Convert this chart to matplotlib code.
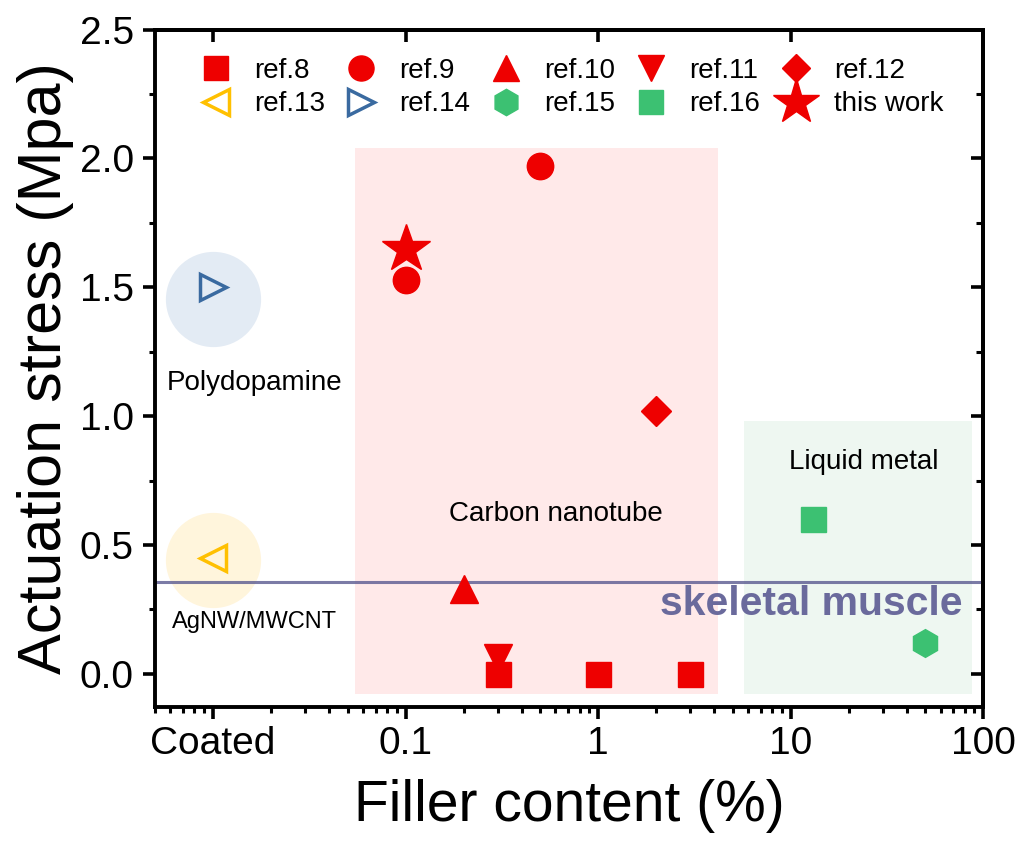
import numpy as np
import matplotlib
matplotlib.use('Agg')
import matplotlib.pyplot as plt
from matplotlib.ticker import LogLocator, MultipleLocator, NullFormatter

plt.rcParams['font.family'] = ['Liberation Sans', 'DejaVu Sans']

# data (x = filler content %, "Coated" placed at 0.01)
ref8_x = [0.3, 1.0, 3.0]
ref8_y = [0.0, 0.0, 0.0]
ref9_x = [0.1, 0.5]
ref9_y = [1.53, 1.97]
ref10_x = [0.2]
ref10_y = [0.33]
ref11_x = [0.3]
ref11_y = [0.06]
ref12_x = [2.0]
ref12_y = [1.02]
ref13_x = [0.01]
ref13_y = [0.45]
ref14_x = [0.01]
ref14_y = [1.50]
ref15_x = [50.0]
ref15_y = [0.12]
ref16_x = [13.0]
ref16_y = [0.60]
this_x = [0.1]
this_y = [1.65]

muscle_y = 0.357
tick_vals = [0.01, 0.1, 1, 10, 100]
tick_labels = ['Coated', '0.1', '1', '10', '100']

red = '#ee0000'
green = '#3cc172'

fig = plt.figure(figsize=(10.21, 8.47), dpi=100)
ax = fig.add_axes([0.152, 0.165, 0.811, 0.8])
ax.set_xscale('log')
ax.set_xlim(0.005, 100)
ax.set_ylim(-0.13, 2.5)

# shaded regions
ax.axvspan(0.0547, 4.2, ymin=(-0.078 + 0.13) / 2.63, ymax=(2.04 + 0.13) / 2.63,
           color='#ffe6e6', alpha=0.85, lw=0, zorder=0)
ax.axvspan(5.73, 87.7, ymin=(-0.078 + 0.13) / 2.63, ymax=(0.98 + 0.13) / 2.63,
           color='#eaf6ee', alpha=0.8, lw=0, zorder=0)
ax.scatter([0.01], [1.455], s=4700, color='#e3ebf4', lw=0, zorder=1)
ax.scatter([0.01], [0.443], s=4700, color='#fff5dc', lw=0, zorder=1)

# skeletal muscle line
ax.axhline(muscle_y, color='#5a5a90', lw=2.2, alpha=0.8, zorder=2)
ax.text(78, 0.27, 'skeletal muscle', ha='right', va='center', fontsize=29.5,
        fontweight='bold', color='#6a6a9c', zorder=3)

# points
h8, = ax.plot(ref8_x, ref8_y, 's', color=red, ms=18, ls='none', label='ref.8', zorder=4)
h9, = ax.plot(ref9_x, ref9_y, 'o', color=red, ms=19, ls='none', label='ref.9', zorder=4)
h10, = ax.plot(ref10_x, ref10_y, '^', color=red, ms=20, ls='none', label='ref.10', zorder=4)
h11, = ax.plot(ref11_x, ref11_y, 'v', color=red, ms=20, ls='none', label='ref.11', zorder=4)
h12, = ax.plot(ref12_x, ref12_y, 'D', color=red, ms=15, ls='none', label='ref.12', zorder=4)
h13, = ax.plot(ref13_x, ref13_y, '<', mfc='none', mec='#ffc000', mew=2.5, ms=19,
               ls='none', label='ref.13', zorder=4)
h14, = ax.plot(ref14_x, ref14_y, '>', mfc='none', mec='#3a6aa0', mew=2.5, ms=19,
               ls='none', label='ref.14', zorder=4)
h15, = ax.plot(ref15_x, ref15_y, 'h', color=green, ms=20, ls='none', label='ref.15', zorder=4)
h16, = ax.plot(ref16_x, ref16_y, 's', color=green, ms=18, ls='none', label='ref.16', zorder=4)
hs, = ax.plot(this_x, this_y, '*', color=red, ms=36, ls='none', label='this work', zorder=5)

# region labels
ax.text(0.0165, 1.13, 'Polydopamine', ha='center', va='center', fontsize=20)
ax.text(0.0163, 0.2, 'AgNW/MWCNT', ha='center', va='center', fontsize=17)
ax.text(0.6, 0.62, 'Carbon nanotube', ha='center', va='center', fontsize=20)
ax.text(24, 0.82, 'Liquid metal', ha='center', va='center', fontsize=20)

handles = [h8, h13, h9, h14, h10, h15, h11, h16, h12, hs]
ax.legend(handles=handles, ncol=5, loc='upper left', bbox_to_anchor=(0.057, 0.958),
          frameon=False, fontsize=20, handletextpad=0.87, columnspacing=0.79,
          labelspacing=0.26, handlelength=1.0, borderpad=0, borderaxespad=0,
          markerscale=0.95)

# axes styling
ax.set_xticks(tick_vals)
ax.set_xticklabels(tick_labels)
ax.xaxis.set_minor_locator(LogLocator(base=10, subs=np.arange(2, 10)))
ax.xaxis.set_minor_formatter(NullFormatter())
ax.yaxis.set_major_locator(MultipleLocator(0.5))
ax.yaxis.set_minor_locator(MultipleLocator(0.25))
ax.yaxis.set_major_formatter(plt.FuncFormatter(lambda v, p: f'{v:.1f}'))
ax.tick_params(which='major', direction='out', length=8.5, width=2.6, labelsize=28)
ax.tick_params(which='minor', direction='out', length=4.5, width=2.2)
ax.tick_params(axis='x', pad=5)
ax.tick_params(axis='y', pad=7)
for s in ax.spines.values():
    s.set_linewidth(2.8)

top = ax.secondary_xaxis('top')
top.set_xticks(tick_vals)
top.set_xticklabels([])
top.xaxis.set_minor_locator(plt.NullLocator())
top.tick_params(direction='in', length=8.5, width=2.6)
top.spines['top'].set_linewidth(2.8)

right = ax.secondary_yaxis('right')
right.yaxis.set_major_locator(MultipleLocator(0.5))
right.yaxis.set_minor_locator(MultipleLocator(0.25))
right.set_yticklabels([])
right.tick_params(which='major', direction='in', length=8.5, width=2.6)
right.tick_params(which='minor', direction='in', length=5, width=2.2)
right.spines['right'].set_linewidth(2.8)

ax.set_xlabel('Filler content (%)', fontsize=41, labelpad=12)
ax.set_ylabel('Actuation stress (Mpa)', fontsize=44, labelpad=4)

fig.savefig('out.png', dpi=100)
